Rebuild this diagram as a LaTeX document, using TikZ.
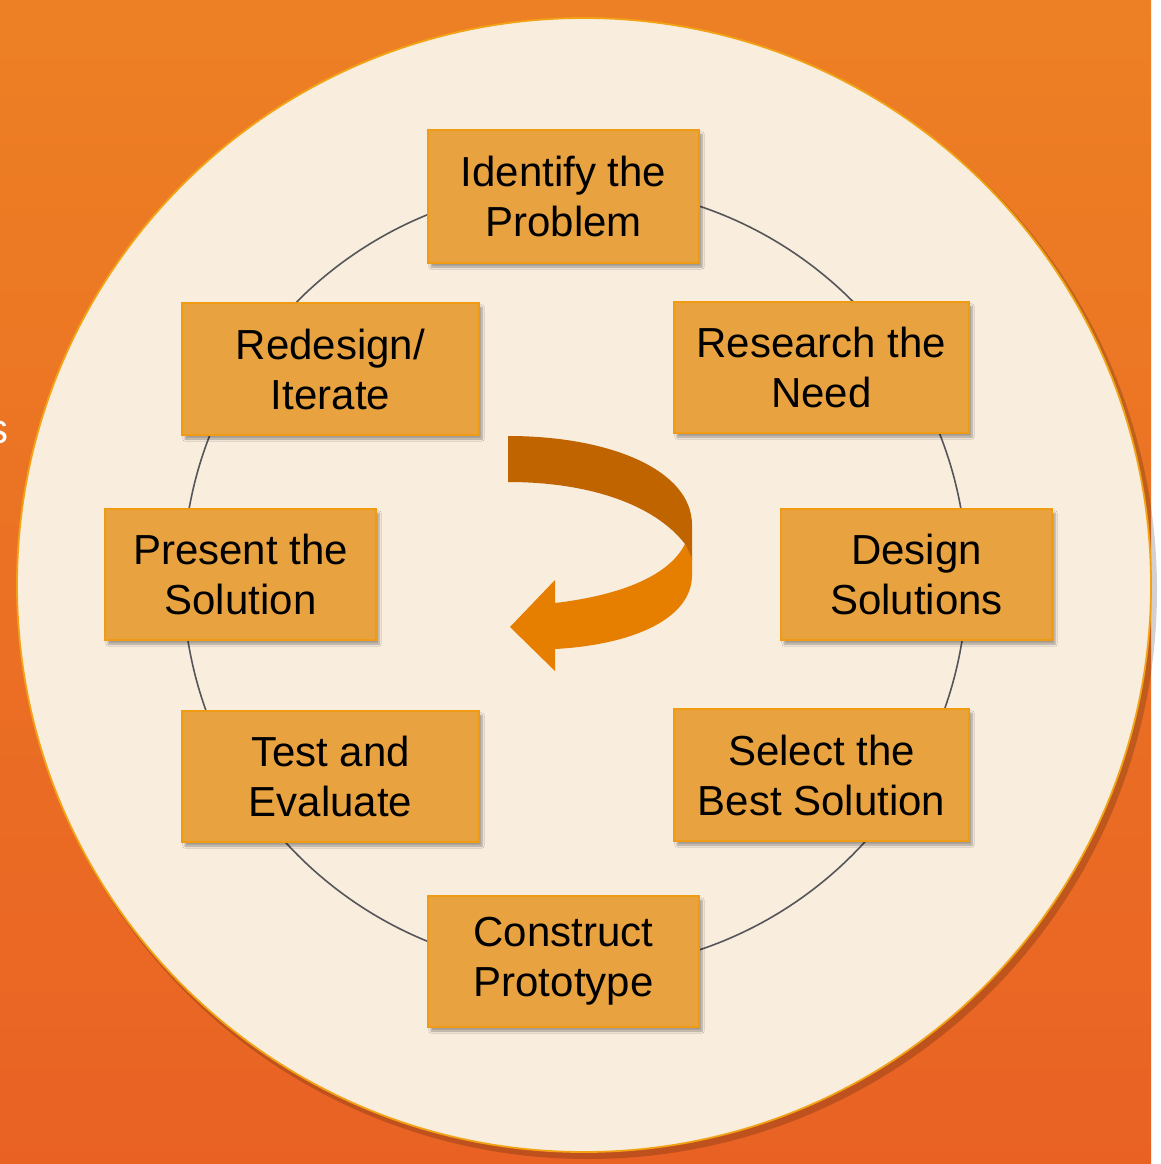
\documentclass[tikz,border=0pt]{standalone}
\usepackage{fontspec}
\setmainfont{Liberation Sans}
\usetikzlibrary{shadows.blur}
\definecolor{bgtop}{RGB}{237,128,36}
\definecolor{bgbot}{RGB}{233,98,36}
\definecolor{cream}{RGB}{249,237,222}
\definecolor{rimorange}{RGB}{242,162,20}
\definecolor{boxfill}{RGB}{232,163,64}
\definecolor{boxline}{RGB}{240,155,20}
\definecolor{ringgray}{RGB}{85,85,90}
\definecolor{arrowdark}{RGB}{192,100,0}
\definecolor{arrowbright}{RGB}{230,126,0}
\begin{document}
\begin{tikzpicture}[x=1pt,y=-1pt,
  stepbox/.style={draw=boxline, line width=2pt, fill=boxfill, inner sep=0pt,
    align=center, text=black, font=\fontsize{42}{50}\selectfont,
    blur shadow={shadow xshift=3pt, shadow yshift=-4pt, shadow blur steps=6, shadow opacity=35}},
  ringline/.style={draw=ringgray, line width=1.6pt}]
\useasboundingbox (0,0) rectangle (1160,1164);
% background
\fill[white] (0,0) rectangle (1160,1164);
\shade[top color=bgtop, bottom color=bgbot] (0,0) rectangle (1151,1164);
\node[anchor=base east, text=white, font=\fontsize{42}{50}\selectfont, inner sep=0pt] (cut) at (9,443) {s};
% cream disc
\coordinate (disc) at (584,585);
\fill[black, opacity=0.18] (588,590) circle[radius=569];
\fill[cream, draw=rimorange, line width=1.8pt] (disc) circle[radius=567];
% ring
\coordinate (ring) at (575,578);
\draw[ringline] (ring) circle[radius=392];
% central curved arrow
\fill[arrowdark] (508,436) .. controls (610,436) and (692,470) .. (692,525)
  -- (692,560) -- (685,544) .. controls (655,505) and (590,482) .. (508,482) -- cycle;
\fill[arrowbright] (685,544) -- (692,558) -- (692,575)
  .. controls (692,620) and (630,645) .. (555,649) -- (555,671) -- (510,627)
  -- (555,580) -- (555,603) .. controls (615,596) and (668,578) .. (685,544) -- cycle;
% boxes
\node[stepbox, minimum width=271pt, minimum height=133pt] (identify) at (563.5,196.5) {Identify the\\Problem};
\node[stepbox, minimum width=295pt, minimum height=131pt] (research) at (821.5,367.5) {Research the\\Need};
\node[stepbox, minimum width=271pt, minimum height=131pt] (design) at (916.5,574.5) {Design\\Solutions};
\node[stepbox, minimum width=295pt, minimum height=132pt] (select) at (821.5,775) {Select the\\Best Solution};
\node[stepbox, minimum width=271pt, minimum height=131pt] (construct) at (563.5,961.5) {Construct\\Prototype};
\node[stepbox, minimum width=297pt, minimum height=131pt] (test) at (330.5,776.5) {Test and\\Evaluate};
\node[stepbox, minimum width=271pt, minimum height=131pt] (present) at (240.5,574.5) {Present the\\Solution};
\node[stepbox, minimum width=297pt, minimum height=132pt] (redesign) at (330.5,369) {Redesign/\\Iterate};
\end{tikzpicture}
\end{document}
